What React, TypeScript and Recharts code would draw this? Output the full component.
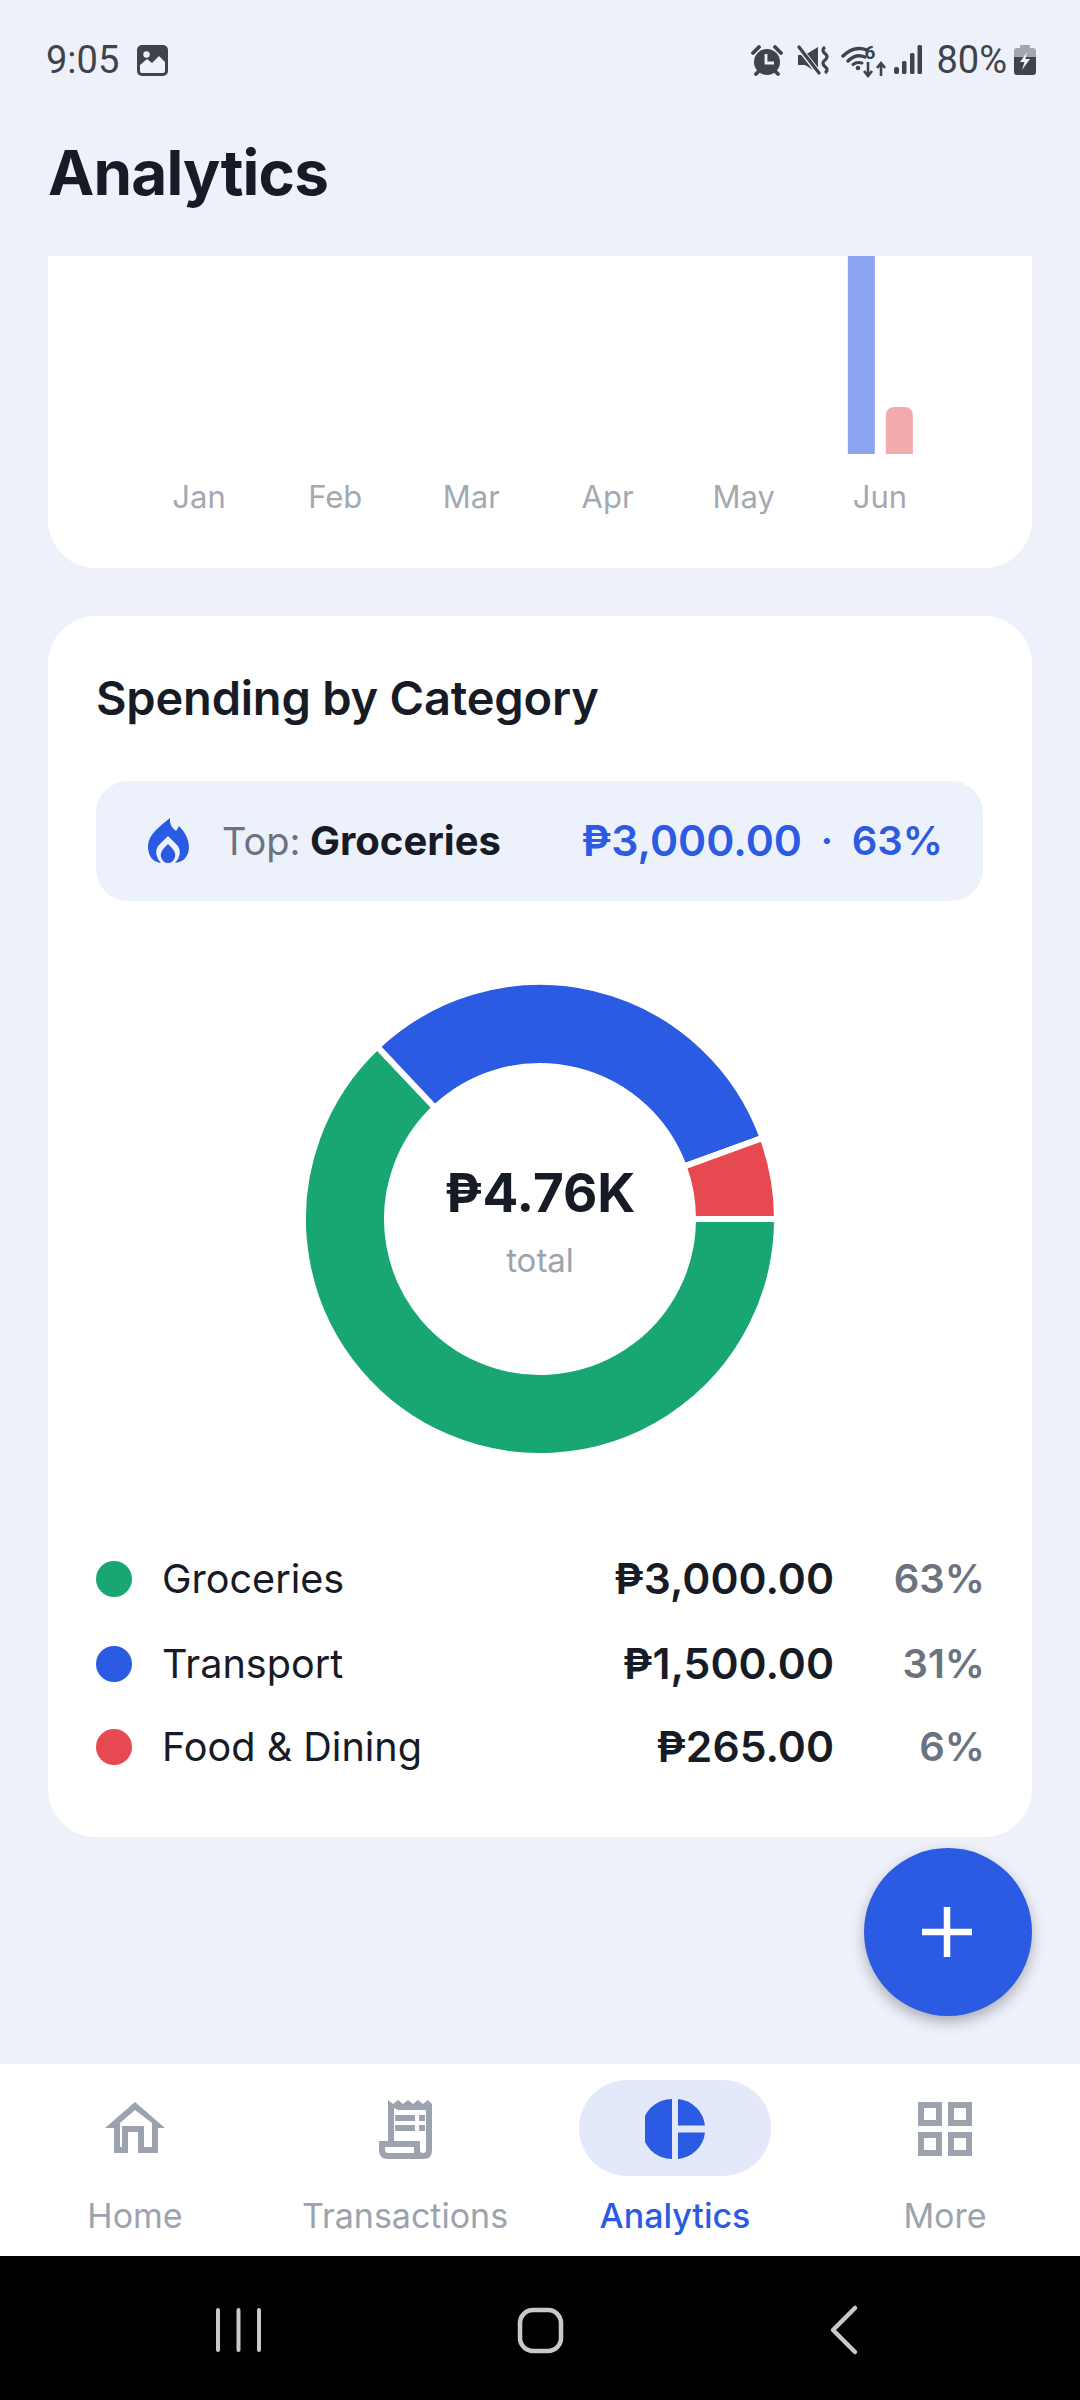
import React from "react";
import { BarChart, Bar, XAxis, YAxis, PieChart, Pie, Cell } from "recharts";

const months = ["Jan", "Feb", "Mar", "Apr", "May", "Jun"];
const incomeValues = [0, 0, 0, 0, 0, 30000];
const expenseValues = [0, 0, 0, 0, 0, 4765];
const categories = ["Groceries", "Transport", "Food & Dining"];
const categoryValues = [3000, 1500, 265];
const categoryAmounts = ["₱3,000.00", "₱1,500.00", "₱265.00"];
const categoryPercents = ["63%", "31%", "6%"];
const categoryColors = ["#18A672", "#2C5BE3", "#E64A50"];
const navLabels = ["Home", "Transactions", "Analytics", "More"];

const monthly = months.map((m, i) => ({ m, income: incomeValues[i], expense: expenseValues[i] }));
const slices = categories.map((name, i) => ({ name, value: categoryValues[i] }));

const INTER = "Inter, sans-serif";
const ROBOTO = "Roboto, sans-serif";
const BLUE = "#2C5BE3";
const INK = "#171B26";
const GREY = "#9CA3AF";
const BG = "#EEF1FA";

type TP = { x?: number; r?: number; cx?: number; y: number; s: number; w?: number; c: string; f?: string; ls?: number; children: React.ReactNode };
function T({ x, r, cx, y, s, w = 400, c, f = INTER, ls = 0, children }: TP) {
  const st: React.CSSProperties = {
    position: "absolute", top: y - 50, height: 100, lineHeight: "100px", fontSize: s, fontWeight: w,
    color: c, fontFamily: f, whiteSpace: "nowrap", letterSpacing: ls,
  };
  if (x !== undefined) st.left = x;
  if (r !== undefined) st.right = 1080 - r;
  if (cx !== undefined) { st.left = cx - 300; st.width = 600; st.textAlign = "center"; }
  return <div style={st}>{children}</div>;
}

function Box({ x, y, w, h, bg, rad, shadow }: { x: number; y: number; w: number; h: number; bg: string; rad?: number | string; shadow?: string }) {
  return <div style={{ position: "absolute", left: x, top: y, width: w, height: h, background: bg, borderRadius: rad, boxShadow: shadow }} />;
}

function Svg({ x, y, w, h, vb, children }: { x: number; y: number; w: number; h: number; vb?: string; children: React.ReactNode }) {
  return (
    <svg style={{ position: "absolute", left: x, top: y }} width={w} height={h} viewBox={vb || `0 0 ${w} ${h}`}>
      {children}
    </svg>
  );
}

const SB = "#3F434C";

function StatusIcons() {
  return (
    <>
      <Svg x={137} y={45} w={31} h={31}>
        <rect width={31} height={31} rx={5} fill={SB} />
        <circle cx={9.5} cy={9.5} r={3.2} fill={BG} />
        <path d="M3 26 V20 L10 14 L15 18 L22 11 L28 17 V26 Q28 28 26 28 H5 Q3 28 3 26Z" fill={BG} />
      </Svg>
      <Svg x={751} y={45} w={32} h={31}>
        <circle cx={16} cy={17} r={13} fill={SB} />
        <path d="M2 8 L8 2 M30 8 L24 2 M5 29 L9 25 M27 29 L23 25" stroke={SB} strokeWidth={3.8} strokeLinecap="round" />
        <path d="M15 9 V18 H23" stroke={BG} strokeWidth={2.8} fill="none" />
      </Svg>
      <Svg x={797} y={45} w={33} h={30}>
        <path d="M1 10 H8 L21 2 V28 L8 20 H1Z" fill={SB} />
        <path d="M0 0 L21 27" stroke={BG} strokeWidth={5.5} />
        <path d="M2 2 L22 28" stroke={SB} strokeWidth={3.2} strokeLinecap="round" />
        <path d="M28 2 Q24 5 28 8.5 Q32 12 28 15 Q24 18 28 21.5 Q32 25 28 28" stroke={SB} strokeWidth={3.2} fill="none" />
      </Svg>
      <Svg x={841} y={23} w={66} h={74} vb="0 -20 66 74">
        <path d="M2 13 Q13 2 26 7" stroke={SB} strokeWidth={3.4} fill="none" strokeLinecap="round" />
        <path d="M7 18 Q15 10 24 14" stroke={SB} strokeWidth={3.4} fill="none" strokeLinecap="round" />
        <path d="M12 21.5 Q16 18.5 21 20" stroke={SB} strokeWidth={3} fill="none" strokeLinecap="round" />
        <circle cx={17} cy={25} r={2.3} fill={SB} />
        <text x={29} y={16} fontFamily={ROBOTO} fontSize={19} fontWeight={700} textAnchor="middle" fill={SB}>6</text>
        <path d="M27 19 V32 M23 28 L27 33 L31 28 M40 33 V21 M36 25 L40 20 L44 25" stroke={SB} strokeWidth={2.6} fill="none" />
      </Svg>
      <Svg x={893} y={44} w={30} h={32}>
        <rect x={1} y={23} width={5} height={7} rx={2} fill={SB} />
        <rect x={9} y={17} width={4.5} height={13} rx={1.5} fill={SB} />
        <rect x={17} y={9} width={4.5} height={21} rx={1.5} fill={SB} />
        <rect x={24.5} y={1} width={4.5} height={29} rx={1.5} fill={SB} />
      </Svg>
      <Svg x={1014} y={44} w={22} h={32}>
        <path d="M6 1 H16 V4 H19 Q22 4 22 7 V13 H0 V7 Q0 4 3 4 H6Z" fill="#A3A6AC" />
        <path d="M0 13 H22 V28 Q22 31 19 31 H3 Q0 31 0 28Z" fill={SB} />
        <path d="M13 8 L6 18 H10.5 L8 26 L16 15 H11.5Z" fill={BG} />
      </Svg>
    </>
  );
}

function NavIcons() {
  const g = GREY;
  return (
    <>
      <Svg x={105} y={2102} w={60} h={52}>
        <path d="M0 26 L30 0 L60 26 H53 V51 H33 V30 H23 V51 H9 V26Z M15 21 V45 H17 V24 H39 V45 H47 V21 L30 8Z" fill={g} fillRule="evenodd" />
      </Svg>
      <Svg x={378} y={2098} w={56} h={62}>
        <path d="M10 43 V2 L15 6 L20 2 L25 6 L30 2 L35 6 L40 2 L45 6 L50 2 L54 6 V52 Q54 61 46 61 H10 Q1 61 1 52 V43Z" fill={g} />
        <path d="M16 10 L20 12 H48 V52 Q48 55 45 55 Q42 55 42 52 V43 H16Z M7 49 H36 V55 H10 Q7 55 7 52Z" fill="#fff" />
        <path d="M19 17 H39 V23 H19Z M43 17 H49 V23 H43Z M19 27 H39 V33 H19Z M43 27 H49 V33 H43Z" fill={g} transform="translate(-2 0)" />
      </Svg>
      <Svg x={645} y={2099} w={60} h={60}>
        <path d="M27 0 V60 A30 30 0 0 1 27 0Z" fill={BLUE} />
        <path d="M33 0 A30 30 0 0 1 60 26.5 H33Z" fill={BLUE} />
        <path d="M33 33.5 H60 A30 30 0 0 1 33 60Z" fill={BLUE} />
      </Svg>
      <Svg x={918} y={2102} w={54} h={54}>
        <g fill="none" stroke={g} strokeWidth={6}>
          <rect x={3} y={3} width={18} height={18} />
          <rect x={33} y={3} width={18} height={18} />
          <rect x={3} y={33} width={18} height={18} />
          <rect x={33} y={33} width={18} height={18} />
        </g>
      </Svg>
    </>
  );
}

export default function App() {
  return (
    <div style={{ position: "absolute", left: 0, top: 0, width: 1080, height: 2400, background: BG, overflow: "hidden" }}>
      <T x={46} y={60} s={38} c={SB} f={ROBOTO}>9:05</T>
      <T r={1007} y={60} s={38} c={SB} f={ROBOTO}>80%</T>
      <StatusIcons />

      <T x={48} y={173} s={62} w={700} c={INK} ls={-0.8}>Analytics</T>

      <div style={{ position: "absolute", left: 48, top: 256, width: 984, height: 312, background: "#fff", borderRadius: "0 0 48px 48px", overflow: "hidden" }}>
        <div style={{ position: "absolute", left: 83, top: -98 }}>
          <BarChart width={817} height={356} data={monthly} margin={{ top: 0, right: 0, bottom: 0, left: 0 }} barSize={27} barGap={11}>
            <YAxis hide domain={[0, 30000]} />
            <XAxis dataKey="m" axisLine={false} tickLine={false} height={60} interval={0} tickMargin={26}
              tick={{ fontSize: 31, fill: "#A3A9B3", fontFamily: INTER }} />
            <Bar dataKey="income" fill={BLUE} fillOpacity={0.55} radius={[8, 8, 0, 0]} isAnimationActive={false} />
            <Bar dataKey="expense" fill="#E64A50" fillOpacity={0.47} radius={[8, 8, 0, 0]} isAnimationActive={false} />
          </BarChart>
        </div>
      </div>

      <Box x={48} y={616} w={984} h={1221} bg="#fff" rad={48} />
      <T x={96} y={698} s={47} w={600} c={INK} ls={-0.2}>Spending by Category</T>

      <Box x={96} y={781} w={887} h={120} bg="#EDF1FB" rad={32} />
      <Svg x={146} y={816} w={44} h={48} vb="0 0 44 48">
        <path d="M24 2 Q23 10 30 15 Q32 12 33 10 Q42 19 43 30 Q43 45 29 47 Q37 38 32 30 L22 20 L12 30 Q7 38 15 47 Q2 45 2 30 Q2 22 10 14 Q16 8 24 2Z" fill={BLUE} />
        <path d="M22 28 Q31 36 29 41 Q27 47 22 47 Q17 47 15 41 Q13 36 22 28Z" fill={BLUE} />
      </Svg>
      <T x={222} y={841} s={38} c="#6B7280">Top:</T>
      <T x={310} y={841} s={40} w={700} c={INK}>Groceries</T>
      <T r={802} y={841} s={42.7} w={600} c={BLUE}>₱3,000.00</T>
      <T cx={827} y={841} s={40} w={600} c={BLUE}>·</T>
      <T r={943} y={841} s={40} w={600} c={BLUE}>63%</T>

      <div style={{ position: "absolute", left: 280, top: 959 }}>
        <PieChart width={520} height={520} margin={{ top: 0, right: 0, bottom: 0, left: 0 }}>
          <Pie data={slices} dataKey="value" cx={260} cy={260} innerRadius={153} outerRadius={237}
            startAngle={0} endAngle={-360} stroke="#fff" strokeWidth={6} isAnimationActive={false}>
            {slices.map((s, i) => <Cell key={s.name} fill={categoryColors[i]} />)}
          </Pie>
        </PieChart>
      </div>
      <T cx={540} y={1193} s={53} w={700} c={INK}>₱4.76K</T>
      <T cx={540} y={1260} s={33} c={GREY}>total</T>

      {categories.map((name, i) => {
        const y = [1579, 1664, 1747][i];
        return (
          <React.Fragment key={name}>
            <Box x={96} y={y - 18} w={36} h={36} bg={categoryColors[i]} rad="50%" />
            <T x={162} y={y} s={39.6} c={INK}>{name}</T>
            <T r={834} y={y} s={42.6} w={600} c={INK}>{categoryAmounts[i]}</T>
            <T r={985} y={y} s={40} w={600} c="#6B7280">{categoryPercents[i]}</T>
          </React.Fragment>
        );
      })}

      <Box x={864} y={1848} w={168} h={168} bg={BLUE} rad="50%" shadow="0 6px 14px rgba(0,0,0,0.28)" />
      <Svg x={922} y={1907} w={50} h={50}>
        <path d="M25 0 V50 M0 25 H50" stroke="#fff" strokeWidth={6.5} />
      </Svg>

      <Box x={0} y={2064} w={1080} h={192} bg="#fff" />
      <Box x={579} y={2080} w={192} h={96} bg="#E3E9FB" rad={48} />
      <NavIcons />
      {navLabels.map((l, i) => (
        <T key={l} cx={[135, 405, 675, 945][i]} y={2216} s={34} w={i === 2 ? 500 : 400} c={i === 2 ? BLUE : GREY}>{l}</T>
      ))}

      <Box x={0} y={2256} w={1080} h={144} bg="#000" />
      <Svg x={210} y={2300} w={60} h={60}>
        <path d="M8 10 V50 M28.500 10 V50 M49 10 V50" stroke="#C9C9C9" strokeWidth={4} strokeLinecap="round" />
      </Svg>
      <Svg x={510} y={2300} w={60} h={60}>
        <rect x={10} y={10} width={41} height={41} rx={13} fill="none" stroke="#C9C9C9" strokeWidth={4.5} />
      </Svg>
      <Svg x={815} y={2300} w={60} h={60}>
        <path d="M40 8 L18 30 L40 52" fill="none" stroke="#C9C9C9" strokeWidth={4.5} strokeLinecap="round" strokeLinejoin="round" />
      </Svg>
    </div>
  );
}
